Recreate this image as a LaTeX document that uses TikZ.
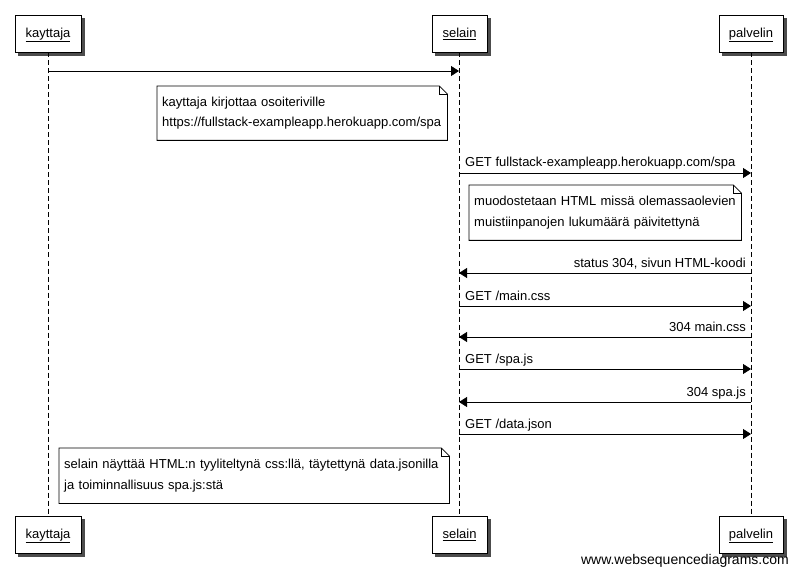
\documentclass[tikz,border=0pt]{standalone}
\usepackage{fontspec}
\setmainfont{Liberation Sans}
\usetikzlibrary{arrows.meta,calc,backgrounds}
\tikzset{
  actor/.style={draw,fill=white,line width=0.8pt,minimum height=37pt,inner xsep=0pt,
    text height=8pt,text depth=0pt},
  shadowc/.style={fill=black!70},
  lifeline/.style={line width=0.8pt,dash pattern=on 5pt off 3pt},
  msg/.style={line width=0.8pt,-{Triangle[length=8pt,width=10pt]}},
  msglabel/.style={inner sep=0pt},
  notebox/.style={inner xsep=5pt,inner ysep=0pt,align=left,
    font=\fontsize{13}{20.5}\selectfont},
  noteline/.style={line width=0.8pt},
}
\newcommand\foldnote[1]{%
  \draw[noteline] (#1.north west) -- ($(#1.north east)+(-8,0)$) -- ($(#1.north east)+(0,8)$)
    -- (#1.south east) -- (#1.south west) -- cycle;
  \draw[noteline] ($(#1.north east)+(-8,0)$) -- ($(#1.north east)+(-8,8)$) -- ($(#1.north east)+(0,8)$);}
\newcommand\actorshadow[1]{%
  \begin{scope}[on background layer]
    \fill[shadowc] ($(#1.north west)+(3.5,3.5)$) rectangle ($(#1.south east)+(3.5,3.5)$);
  \end{scope}}
\newcommand\ul[1]{\underline{#1}}
\begin{document}
\begin{tikzpicture}[x=1pt,y=-1pt,font=\fontsize{13}{16}\selectfont]
\useasboundingbox (0,0) rectangle (797,577);
% participants
\node[actor,minimum width=66pt] (kt) at (48,33.5) {\ul{kayttaja}};
\node[actor,minimum width=55pt] (st) at (459.5,33.5) {\ul{selain}};
\node[actor,minimum width=64pt] (pt) at (751,33.5) {\ul{palvelin}};
\node[actor,minimum width=66pt] (kb) at (48,534.5) {\ul{kayttaja}};
\node[actor,minimum width=55pt] (sb) at (459.5,534.5) {\ul{selain}};
\node[actor,minimum width=64pt] (pb) at (751,534.5) {\ul{palvelin}};
\actorshadow{kt}\actorshadow{st}\actorshadow{pt}
\actorshadow{kb}\actorshadow{sb}\actorshadow{pb}
% lifelines
\coordinate (kl1) at (48,52.5); \coordinate (kl2) at (48,515.5);
\coordinate (sl1) at (459,52.5); \coordinate (sl2) at (459,515.5);
\coordinate (pl1) at (751,52.5); \coordinate (pl2) at (751,515.5);
\draw[lifeline] (kl1) -- (kl2);
\draw[lifeline] (sl1) -- (sl2);
\draw[lifeline] (pl1) -- (pl2);
% messages
\draw[msg] (kl1 |- 0,71) -- (sl1 |- 0,71);
\node[notebox,minimum width=290pt,minimum height=54pt,text width=280pt,anchor=north west] (n1) at (157,86)
  {kayttaja kirjottaa osoiteriville\\https://fullstack-exampleapp.herokuapp.com/spa};
\foldnote{n1}
\draw[msg] (sl1 |- 0,173) -- (pl1 |- 0,173);
\node[msglabel,anchor=base west] (l2) at (465,167) {GET fullstack-exampleapp.herokuapp.com/spa};
\node[notebox,minimum width=272pt,minimum height=55pt,text width=262pt,anchor=north west] (n2) at (469,185)
  {muodostetaan HTML missä olemassaolevien\\muistiinpanojen lukumäärä päivitettynä};
\foldnote{n2}
\draw[msg] (pl1 |- 0,273) -- (sl1 |- 0,273);
\node[msglabel,anchor=base east] (l3) at (746,267) {status 304, sivun HTML-koodi};
\draw[msg] (sl1 |- 0,306) -- (pl1 |- 0,306);
\node[msglabel,anchor=base west] (l4) at (465,300) {GET /main.css};
\draw[msg] (pl1 |- 0,337) -- (sl1 |- 0,337);
\node[msglabel,anchor=base east] (l5) at (746,331) {304 main.css};
\draw[msg] (sl1 |- 0,369) -- (pl1 |- 0,369);
\node[msglabel,anchor=base west] (l6) at (465,363) {GET /spa.js};
\draw[msg] (pl1 |- 0,402) -- (sl1 |- 0,402);
\node[msglabel,anchor=base east] (l7) at (746,396) {304 spa.js};
\draw[msg] (sl1 |- 0,434) -- (pl1 |- 0,434);
\node[msglabel,anchor=base west] (l8) at (465,428) {GET /data.json};
\node[notebox,minimum width=390pt,minimum height=55pt,text width=380pt,anchor=north west] (n3) at (59,448)
  {selain näyttää HTML:n tyyliteltynä css:llä, täytettynä data.jsonilla\\ja toiminnallisuus spa.js:stä};
\foldnote{n3}
% watermark
\node[inner sep=0pt,anchor=base east,font=\fontsize{14}{16}\selectfont] (wm) at (789,564) {www.websequencediagrams.com};
\end{tikzpicture}
\end{document}
